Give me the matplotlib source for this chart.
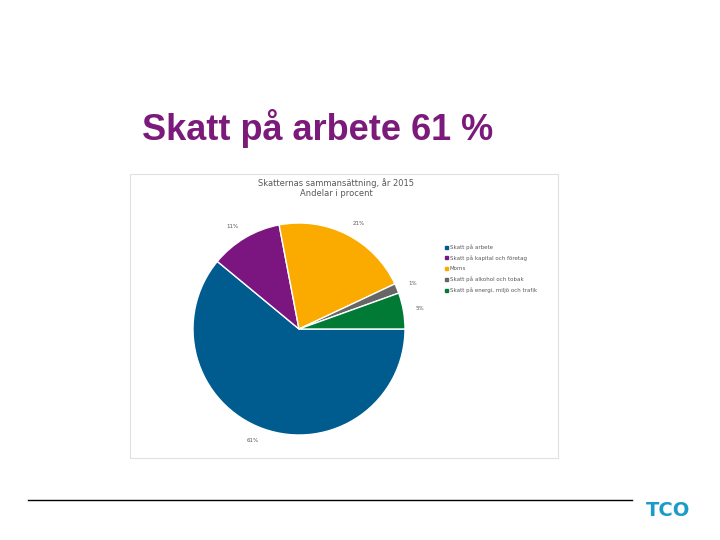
import matplotlib
matplotlib.use('Agg')
import matplotlib.pyplot as plt
from matplotlib.patches import Rectangle

categories = ['Skatt på arbete', 'Skatt på kapital och företag', 'Moms',
              'Skatt på alkohol och tobak', 'Skatt på energi, miljö och trafik']
values = [61, 11, 21, 1.5, 5.5]
labels = ['61%', '11%', '21%', '1%', '5%']
colors = ['#005b8f', '#7b1680', '#fbab00', '#666666', '#007a35']

fig = plt.figure(figsize=(7.2, 5.4), dpi=100)
W, H = 720, 540

fig.text(142 / W, 1 - 128 / H, 'Skatt på arbete 61 %', color='#7b1a7b',
         fontsize=26, fontweight='bold', va='center', ha='left',
         family='Liberation Sans')

# chart frame
fig.patches.append(Rectangle((130 / W, 1 - 458 / H), 428 / W, 284 / H,
                             transform=fig.transFigure, fill=False,
                             edgecolor='#e0e0e0', linewidth=0.8))
fig.text(336 / W, 1 - 183 / H, 'Skatternas sammansättning, år 2015', fontsize=6,
         color='#595959', ha='center', va='center')
fig.text(336 / W, 1 - 194 / H, 'Andelar i procent', fontsize=6,
         color='#595959', ha='center', va='center')

ax = fig.add_axes([(299 - 106) / W, 1 - (329 + 106) / H, 212 / W, 212 / H])
wedges, texts = ax.pie(values, colors=colors, startangle=0, counterclock=False,
                       labels=labels, labeldistance=1.12,
                       wedgeprops=dict(edgecolor='white', linewidth=1),
                       textprops=dict(fontsize=4, color='#595959'))
ax.set_xlim(-1, 1)
ax.set_ylim(-1, 1)
ax.set_aspect('equal')
for t in texts:
    t.set_clip_on(False)

# legend
for i, (c, col) in enumerate(zip(categories, colors)):
    y = 1 - (247 + i * 10.8) / H
    fig.patches.append(Rectangle((445 / W, y - 1.5 / H), 3 / W, 3 / H,
                                 transform=fig.transFigure, color=col))
    fig.text(450 / W, y, c, fontsize=4, color='#595959', va='center')

# bottom rule and logo
fig.add_artist(plt.Line2D([28 / W, 632 / W], [1 - 500 / H, 1 - 500 / H],
                          color='black', linewidth=1))
fig.text(668 / W, 1 - 511 / H, 'TCO', color='#1b9bc8', fontsize=14,
         fontweight='bold', ha='center', va='center', family='DejaVu Sans Condensed')

fig.savefig('out.png', dpi=100)
